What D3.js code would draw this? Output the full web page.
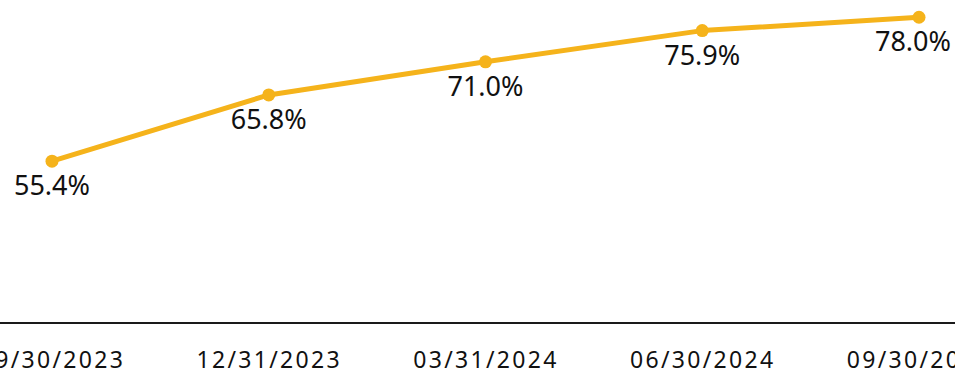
<!DOCTYPE html>
<html>
<head>
<meta charset="utf-8">
<script src="https://cdn.jsdelivr.net/npm/d3@7"></script>
<style>
  html, body { margin: 0; padding: 0; background: #fff; overflow: hidden; }
  svg { display: block; }
</style>
</head>
<body>
<svg id="chart" width="955" height="375"></svg>
<script>
const categories = ["09/30/2023", "12/31/2023", "03/31/2024", "06/30/2024", "09/30/2024"];
const values = [55.4, 65.8, 71.0, 75.9, 78.0];
const valueLabels = ["55.4%", "65.8%", "71.0%", "75.9%", "78.0%"];
const yDomain = [30, 80];

const W = 955, H = 375;
const svg = d3.select("#chart");
const color = "#f5b31b";
const font = "'Noto Sans', 'Open Sans', sans-serif";

const x = d3.scalePoint().domain(categories).range([52, 919]);
const y = d3.scaleLinear().domain(yDomain).range([323, 4.5]);

const data = categories.map((c, i) => ({ c, v: values[i], label: valueLabels[i] }));

// x axis baseline
const axis = d3.axisBottom(x).tickSize(0).tickPadding(0);
const gx = svg.append("g").attr("transform", `translate(0,${y(yDomain[0])})`).call(axis);
gx.select(".domain").attr("d", `M0,0H${W}`).attr("stroke", "#1a1a1a").attr("stroke-width", 2);
gx.selectAll(".tick text")
  .attr("y", 45)
  .attr("dy", 0)
  .attr("fill", "#111")
  .style("font-family", font)
  .style("font-size", "23px")
  .style("letter-spacing", "2.3px");

// line
const line = d3.line().x(d => x(d.c)).y(d => y(d.v));
svg.append("path").datum(data)
  .attr("d", line)
  .attr("fill", "none")
  .attr("stroke", color)
  .attr("stroke-width", 5)
  .attr("stroke-linejoin", "round");

svg.selectAll("circle.pt").data(data).join("circle")
  .attr("class", "pt")
  .attr("cx", d => x(d.c))
  .attr("cy", d => y(d.v))
  .attr("r", 6.5)
  .attr("fill", color);

const labels = svg.selectAll("text.lbl").data(data).join("text")
  .attr("class", "lbl")
  .attr("x", d => x(d.c))
  .attr("y", d => y(d.v) + 34)
  .attr("text-anchor", "middle")
  .attr("fill", "#111")
  .style("font-family", font)
  .style("font-size", "27px")
  .text(d => d.label);

// keep value labels inside the chart on the right edge
labels.each(function(d) {
  const w = this.getComputedTextLength();
  const cx = x(d.c);
  const maxCx = W - 4 - w / 2;
  if (cx > maxCx) d3.select(this).attr("x", maxCx);
});
</script>
</body>
</html>
